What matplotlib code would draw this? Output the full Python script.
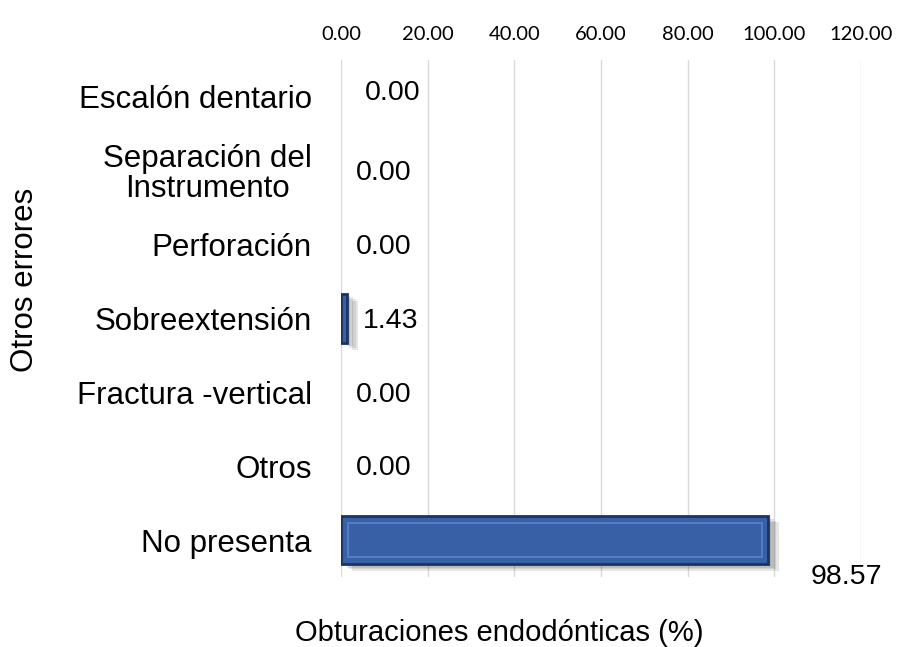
import matplotlib
matplotlib.use("Agg")
import matplotlib.pyplot as plt
import matplotlib.patheffects as pe
import numpy as np

categories = ["Escalón dentario", "Separación del\nInstrumento", "Perforación",
              "Sobreextensión", "Fractura -vertical", "Otros", "No presenta"]
values = [0.00, 0.00, 0.00, 1.43, 0.00, 0.00, 98.57]
xticks = [0, 20, 40, 60, 80, 100, 120]
xtick_labels = [f"{t:.2f}" for t in xticks]

fig = plt.figure(figsize=(9.01, 6.47), dpi=100)
ax = fig.add_axes([341/901, 1-577/647, 520/901, 517/647])

shadow = [pe.SimplePatchShadow(offset=(o, -o * 0.6), shadow_rgbFace="#333333", alpha=0.12)
          for o in (8, 6, 4, 2)] + [pe.Normal()]

y = np.arange(len(categories))[::-1]
for yi, v in zip(y, values):
    if v <= 0:
        continue
    ax.barh(yi, v, height=0.66, color="#3760A6", edgecolor="#1C3461",
            linewidth=2.0, zorder=3, path_effects=shadow)
    if v > 3:
        ax.barh(yi, v - 3.0, left=1.5, height=0.46, color="#3760A6",
                edgecolor="#5A82C8", linewidth=1.2, zorder=4)

ax.set_xlim(0, 120)
ax.set_ylim(-0.5, len(categories) - 0.5)
ax.set_xticks(xticks)
ax.set_xticklabels(xtick_labels, fontsize=14.5, family=["Lato", "DejaVu Sans"])
ax.xaxis.tick_top()
ax.tick_params(axis="x", length=0, pad=12)
ax.set_yticks(y)
ax.set_yticklabels(categories, fontsize=22.5, family=["Liberation Sans"], linespacing=1.0,
                   multialignment="center")
ax.tick_params(axis="y", length=0, pad=21)
for s in ax.spines.values():
    s.set_visible(False)
ax.grid(axis="x", color="#D9D9D9", linewidth=1.0, zorder=0)
ax.set_axisbelow(True)

for yi, v in zip(y, values):
    if v > 50:
        ax.text(v + 18.0, yi - 0.5, f"{v:.2f}", fontsize=20.5, family="Liberation Sans",
                ha="center", va="center", zorder=5)
    else:
        off = 5.5 if yi == 6 else (5.1 if v > 0 else 3.5)
        ax.text(off, yi + (0.05 if yi == 6 else -0.03), f"{v:.2f}", fontsize=20.5,
                family="Liberation Sans", ha="left", va="center", zorder=5)

fig.text(499/901, 1-633/647, "Obturaciones endodónticas (%)", fontsize=21,
         family="Liberation Sans", ha="center", va="center")
fig.text(25/901, 1-280/647, "Otros errores", fontsize=22.5, family="Liberation Sans",
         ha="center", va="center", rotation=90)

fig.savefig("out.png", dpi=100)
